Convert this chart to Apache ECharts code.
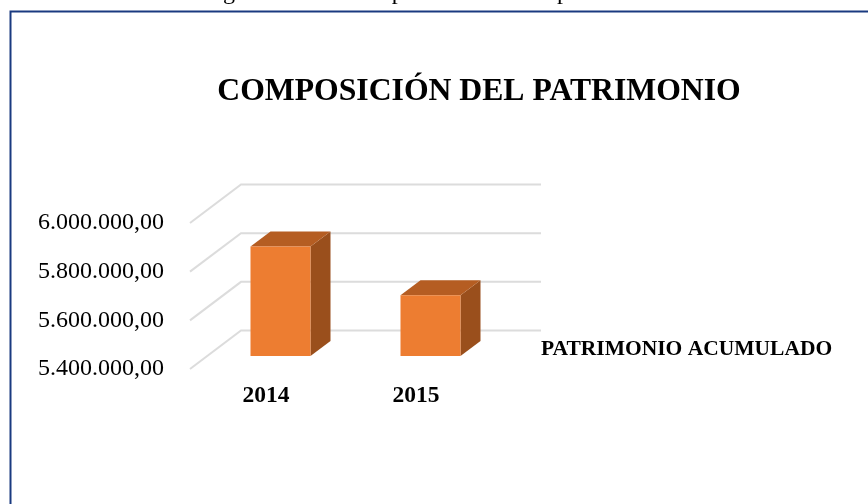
<!DOCTYPE html>
<html>
<head>
<meta charset="utf-8">
<style>html,body{margin:0;padding:0;background:#fff}#c{width:868px;height:504px}</style>
<script src="https://cdn.jsdelivr.net/npm/echarts@6/dist/echarts.min.js"></script>
</head>
<body>
<div id="c"></div>
<script>
const categories = ['2014', '2015'];
const patrimonio = [5850000, 5650000];
const yTicks = [5400000, 5600000, 5800000, 6000000];
const seriesName = 'PATRIMONIO ACUMULADO';
const chartTitle = 'COMPOSICIÓN DEL PATRIMONIO';

const FONT = '"Liberation Serif", "Times New Roman", serif';
const yMin = 5400000, yMax = 6000000, yStep = 200000;
// 3D projection of the plot: depth of the floor and walls, offset and depth of the bars
const WALL = [51, -38.5], PLANE = [15.5, -13], DEPTH = [20, -15], BAR_W = 60;

function fmt(v) {
  return String(v).replace(/\B(?=(\d{3})+$)/g, '.') + ',00';
}

function renderGrid(params, api) {
  const p = api.coord([0, api.value(0)]);
  const cs = params.coordSys;
  return {
    type: 'polyline',
    shape: { points: [[cs.x, p[1]], [cs.x + WALL[0], p[1] + WALL[1]], [cs.x + cs.width + WALL[0], p[1] + WALL[1]]] },
    style: { stroke: '#dcdcdc', lineWidth: 2, fill: null }
  };
}

function renderBar(params, api) {
  const top = api.coord([api.value(0), api.value(1)]);
  const base = api.coord([api.value(0), yMin]);
  const x0 = top[0] + PLANE[0] - BAR_W / 2, x1 = x0 + BAR_W;
  const y0 = top[1] + PLANE[1], y1 = base[1] + PLANE[1];
  const dx = DEPTH[0], dy = DEPTH[1];
  return {
    type: 'group',
    children: [
      { type: 'polygon', shape: { points: [[x1, y0], [x1 + dx, y0 + dy], [x1 + dx, y1 + dy], [x1, y1]] }, style: { fill: '#9A4F1C' } },
      { type: 'polygon', shape: { points: [[x0, y0], [x0 + dx, y0 + dy], [x1 + dx, y0 + dy], [x1, y0]] }, style: { fill: '#B55D22' } },
      { type: 'rect', shape: { x: x0, y: y0, width: BAR_W, height: y1 - y0 }, style: { fill: '#ED7D31' } }
    ]
  };
}

const chart = echarts.init(document.getElementById('c'), null, { renderer: 'canvas' });
chart.setOption({
  animation: false,
  backgroundColor: '#fff',
  title: {
    text: chartTitle, left: 474, top: 71, textAlign: 'center',
    textStyle: { fontFamily: FONT, fontWeight: 'bold', fontSize: 31.7, color: '#000' }
  },
  legend: {
    left: 541, top: 338, selectedMode: false, itemWidth: 0, itemHeight: 0, itemGap: 0,
    padding: 0,
    data: [{ name: seriesName, icon: 'none' }],
    textStyle: { fontFamily: FONT, fontWeight: 'bold', fontSize: 21.5, color: '#000', padding: [0, 0, 0, -5] }
  },
  grid: { left: 190, top: 223, width: 300, height: 146, containLabel: false },
  xAxis: {
    type: 'category', data: categories,
    axisLine: { show: false }, axisTick: { show: false }, splitLine: { show: false },
    axisLabel: { margin: 15, fontFamily: FONT, fontWeight: 'bold', fontSize: 23.5, color: '#000', padding: [0, 0, 0, 2] }
  },
  yAxis: {
    type: 'value', min: yMin, max: yMax, interval: yStep,
    axisLine: { show: false }, axisTick: { show: false }, splitLine: { show: false },
    axisLabel: { margin: 26, formatter: fmt, fontFamily: FONT, fontSize: 24, color: '#000', padding: [0, 0, 8, 0] }
  },
  series: [
    { type: 'custom', name: 'grid', silent: true, z: 1, renderItem: renderGrid, data: yTicks.map(v => [v]), encode: { y: 0 } },
    { type: 'custom', name: seriesName, z: 2, renderItem: renderBar, itemStyle: { color: '#ED7D31' },
      data: categories.map((c, i) => [i, patrimonio[i]]), encode: { x: 0, y: 1 } }
  ],
  graphic: [
    { type: 'polyline', silent: true, shape: { points: [[10.5, 504], [10.5, 11.5], [868, 11.5]] },
      style: { stroke: '#1A3A80', lineWidth: 2, fill: null } },
    { type: 'text', silent: true, style: { text: 'Figura', x: 203, y: -19, font: '24px ' + FONT, fill: '#000' } },
    { type: 'text', silent: true, style: { text: 'Composición', x: 345, y: -19, font: '24px ' + FONT, fill: '#000' } },
    { type: 'text', silent: true, style: { text: 'patrimonio', x: 557, y: -19, font: '24px ' + FONT, fill: '#000' } }
  ]
});
</script>
</body>
</html>
